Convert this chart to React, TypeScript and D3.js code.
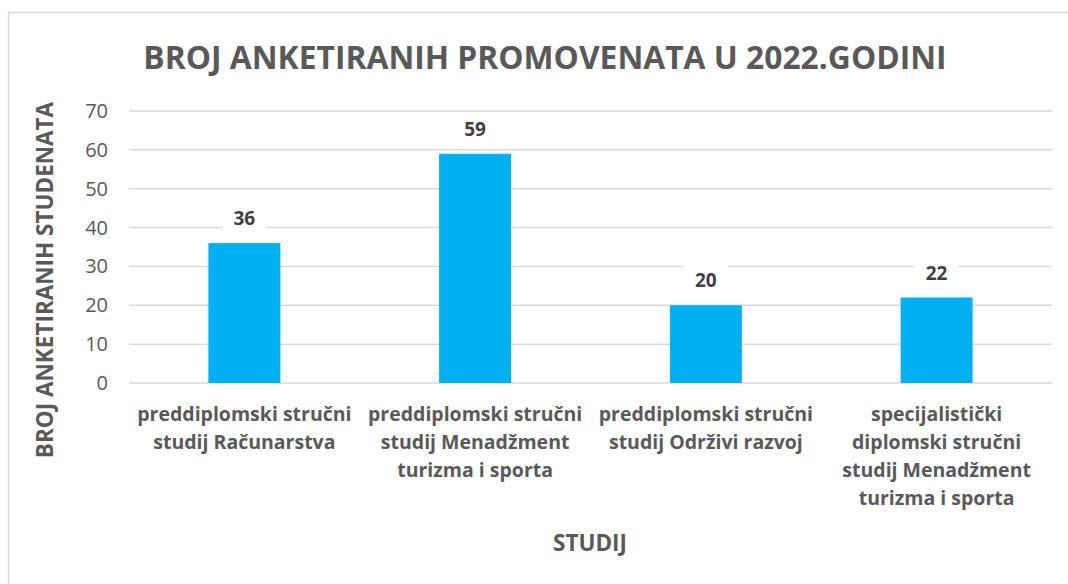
import React from "react";
import * as d3 from "d3";

const categories: string[][] = [
  ["preddiplomski stručni", "studij Računarstva"],
  ["preddiplomski stručni", "studij Menadžment", "turizma i sporta"],
  ["preddiplomski stručni", "studij Održivi razvoj"],
  ["specijalistički", "diplomski stručni", "studij Menadžment", "turizma i sporta"],
];
const values: number[] = [36, 59, 20, 22];
const yTicks: number[] = [0, 10, 20, 30, 40, 50, 60, 70];
const title = "BROJ ANKETIRANIH PROMOVENATA U 2022.GODINI";
const yTitle = "BROJ ANKETIRANIH STUDENATA";
const xTitle = "STUDIJ";

const W = 1068;
const H = 584;
const FONT = "'Open Sans', sans-serif";

export default function App() {
  const left = 129, right = 1052, top = 111, bottom = 383;
  const x = d3.scaleBand<number>().domain(d3.range(values.length)).range([left, right]).paddingInner(0.688).paddingOuter(0.344);
  const y = d3.scaleLinear().domain([0, 70]).range([bottom, top]);
  const band = (right - left) / values.length;
  return (
    <svg width={W} height={H} style={{ position: "absolute", left: 0, top: 0, background: "#fff" }}>
      <rect x={8.5} y={12.5} width={W + 10} height={H + 10} fill="#fff" stroke="#d9d9d9" strokeWidth={1.5} />
      <text x={545} y={69} textAnchor="middle" fontFamily={FONT} fontWeight={700} fontSize={31.8} fill="#595959">{title}</text>
      {yTicks.map((t) => (
        <g key={t}>
          <line x1={left} x2={right} y1={y(t)} y2={y(t)} stroke="#d9d9d9" strokeWidth={1.5} />
          <text x={108} y={y(t) + 7} textAnchor="end" fontFamily={FONT} fontSize={20} fill="#595959">{t}</text>
        </g>
      ))}
      {values.map((v, i) => {
        const cx = (x(i) as number) + x.bandwidth() / 2;
        return (
          <g key={i}>
            <rect x={x(i)} y={y(v)} width={x.bandwidth()} height={y(0) - y(v)} fill="#00b0f0" />
            <rect x={cx - 22} y={y(v) - 40} width={44} height={30} fill="#fff" />
            <text x={cx} y={y(v) - 18} textAnchor="middle" fontFamily={FONT} fontWeight={700} fontSize={19} fill="#404040">{v}</text>
            {categories[i].map((line, j) => (
              <text key={j} x={left + band * i + band / 2} y={421 + j * 28} textAnchor="middle" fontFamily={FONT} fontWeight={700} fontSize={19.5} fill="#595959">{line}</text>
            ))}
          </g>
        );
      })}
      <text x={590} y={551} textAnchor="middle" fontFamily={FONT} fontWeight={700} fontSize={22.5} fill="#595959">{xTitle}</text>
      <text transform={`translate(53,280) rotate(-90)`} textAnchor="middle" fontFamily={FONT} fontWeight={700} fontSize={22.5} fill="#595959">{yTitle}</text>
    </svg>
  );
}
